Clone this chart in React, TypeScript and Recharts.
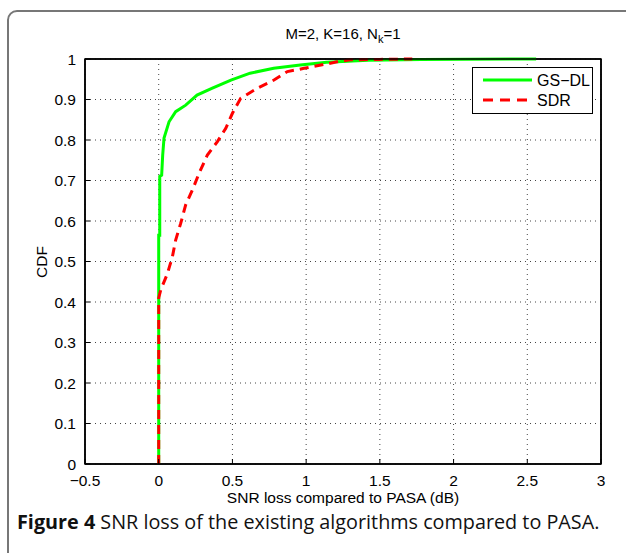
import { LineChart, Line, XAxis, YAxis, CartesianGrid, ReferenceArea } from 'recharts';

// GS-DL empirical CDF (SNR loss in dB vs. CDF)
const gsX = [0, 0, 0.007, 0.007, 0.02, 0.027, 0.036, 0.07, 0.115, 0.183, 0.26, 0.364, 0.49, 0.62, 0.78, 0.96, 1.14, 1.42, 1.78, 2.56];
const gsY = [0, 0.565, 0.565, 0.71, 0.713, 0.763, 0.805, 0.845, 0.87, 0.886, 0.911, 0.928, 0.948, 0.965, 0.977, 0.985, 0.992, 0.997, 0.999, 1.0];

// SDR empirical CDF
const sdrX = [0, 0, 0.014, 0.059, 0.093, 0.115, 0.149, 0.183, 0.229, 0.274, 0.33, 0.398, 0.455, 0.5, 0.556, 0.67, 0.782, 0.873, 0.986, 1.1, 1.21, 1.3, 1.5, 1.72];
const sdrY = [0, 0.41, 0.43, 0.47, 0.512, 0.553, 0.594, 0.64, 0.677, 0.718, 0.763, 0.796, 0.829, 0.866, 0.903, 0.928, 0.948, 0.969, 0.977, 0.985, 0.993, 0.998, 0.999, 1.0];

const xTicks = [-0.5, 0, 0.5, 1, 1.5, 2, 2.5, 3];
const yTicks = [0, 0.1, 0.2, 0.3, 0.4, 0.5, 0.6, 0.7, 0.8, 0.9, 1];

const gsData = gsX.map((x, i) => ({ x, y: gsY[i] }));
const sdrData = sdrX.map((x, i) => ({ x, y: sdrY[i] }));

const AXIS_FONT = '"Liberation Sans", Arial, sans-serif';
const tickStyle = { fontFamily: AXIS_FONT, fontSize: 15.5, fill: '#000' };

const fmtX = (v: number) => (v < 0 ? '\u2212' + Math.abs(v) : String(v));
const fmtY = (v: number) => (v === 0 || v === 1 ? String(v) : v.toFixed(1));

export default function App() {
  return (
    <div style={{ position: 'absolute', left: 0, top: 0, width: 626, height: 553, overflow: 'hidden', background: '#fff' }}>
      {/* figure frame */}
      <div
        style={{
          position: 'absolute',
          left: 7,
          top: 10,
          width: 640,
          height: 600,
          border: '2px solid #777',
          borderRadius: 10,
        }}
      />

      <div
        style={{
          position: 'absolute',
          left: 0,
          width: 686,
          top: 25,
          textAlign: 'center',
          fontFamily: AXIS_FONT,
          fontSize: 15,
        }}
      >
        M=2, K=16, N<sub style={{ fontSize: 11 }}>k</sub>=1
      </div>

      <div style={{ position: 'absolute', left: 0, top: 0 }}>
        <LineChart width={626} height={500} margin={{ top: 58, right: 24, bottom: 6, left: 45 }}>
          <CartesianGrid stroke="#444" strokeDasharray="1 4" strokeWidth={1} />
          <ReferenceArea x1={-0.5} x2={3} y1={0} y2={1} fill="none" stroke="#000" strokeWidth={1.5} ifOverflow="visible" />
          <XAxis
            dataKey="x"
            type="number"
            domain={[-0.5, 3]}
            ticks={xTicks}
            tickFormatter={fmtX}
            tick={{ ...tickStyle, dy: 4 }}
            tickSize={-5}
            tickMargin={12}
            height={30}
            axisLine={{ stroke: '#000', strokeWidth: 1.5 }}
            tickLine={{ stroke: '#000' }}
            allowDataOverflow
          />
          <XAxis
            xAxisId="top"
            orientation="top"
            dataKey="x"
            type="number"
            domain={[-0.5, 3]}
            ticks={xTicks}
            tickFormatter={() => ''}
            tickSize={-5}
            height={1}
            axisLine={{ stroke: '#000', strokeWidth: 1.5 }}
            tickLine={{ stroke: '#000' }}
          />
          <YAxis
            type="number"
            domain={[0, 1]}
            ticks={yTicks}
            tickFormatter={fmtY}
            tick={tickStyle}
            tickSize={-5}
            tickMargin={14}
            width={40}
            axisLine={{ stroke: '#000', strokeWidth: 1.5 }}
            tickLine={{ stroke: '#000' }}
          />
          <YAxis
            yAxisId="right"
            orientation="right"
            type="number"
            domain={[0, 1]}
            ticks={yTicks}
            tickFormatter={() => ''}
            tickSize={-5}
            width={1}
            axisLine={{ stroke: '#000', strokeWidth: 1.5 }}
            tickLine={{ stroke: '#000' }}
          />
          <Line
            data={gsData}
            dataKey="y"
            type="linear"
            stroke="#00ff00"
            strokeWidth={3}
            dot={false}
            isAnimationActive={false}
          />
          <Line
            data={sdrData}
            dataKey="y"
            type="linear"
            stroke="#ff0000"
            strokeWidth={3}
            strokeDasharray="9 6"
            dot={false}
            isAnimationActive={false}
          />
        </LineChart>
      </div>

      {/* y axis label */}
      <div
        style={{
          position: 'absolute',
          left: 42,
          top: 262,
          transform: 'translate(-50%, -50%) rotate(-90deg)',
          fontFamily: AXIS_FONT,
          fontSize: 15.5,
        }}
      >
        CDF
      </div>

      {/* x axis label */}
      <div
        style={{
          position: 'absolute',
          left: 0,
          width: 686,
          top: 490,
          lineHeight: '16px',
          textAlign: 'center',
          fontFamily: AXIS_FONT,
          fontSize: 15.5,
        }}
      >
        SNR loss compared to PASA (dB)
      </div>

      {/* legend */}
      <div
        style={{
          position: 'absolute',
          left: 472,
          top: 67,
          width: 119,
          height: 45,
          border: '1px solid #000',
          background: '#fff',
        }}
      >
        <svg width={119} height={45} style={{ position: 'absolute', left: 0, top: 0 }}>
          <line x1={10} x2={59} y1={12} y2={12} stroke="#00ff00" strokeWidth={3} />
          <line x1={10} x2={59} y1={32} y2={32} stroke="#ff0000" strokeWidth={3} strokeDasharray="10 7" />
          <text x={64} y={18} style={{ fontFamily: AXIS_FONT, fontSize: 16 }}>GS{'\u2212'}DL</text>
          <text x={64} y={38} style={{ fontFamily: AXIS_FONT, fontSize: 16 }}>SDR</text>
        </svg>
      </div>

      {/* caption */}
      <div
        style={{
          position: 'absolute',
          left: 17,
          top: 508,
          whiteSpace: 'nowrap',
          fontFamily: '"Open Sans", "Noto Sans", sans-serif',
          fontSize: 19.8,
          color: '#111',
        }}
      >
        <b>Figure 4</b> SNR loss of the existing algorithms compared to PASA.
      </div>
    </div>
  );
}
